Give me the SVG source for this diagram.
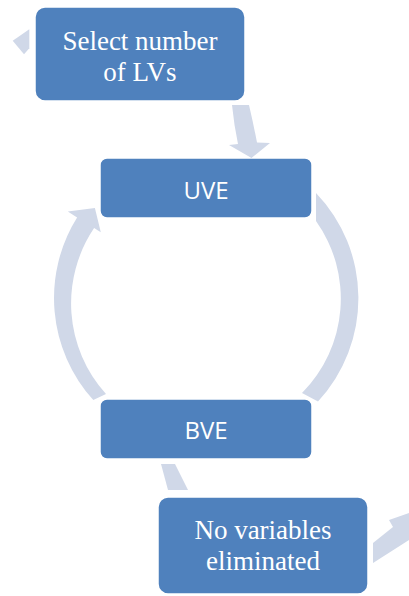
<svg xmlns="http://www.w3.org/2000/svg" width="409" height="596" viewBox="0 0 409 596">
  <style>
    .box { fill: #4f81bd; stroke: #ffffff; stroke-width: 1.5; }
    .link { fill: #d0d8e8; stroke: none; }
    .serif { font-family: "Liberation Serif", "Times New Roman", serif; font-size: 27px; fill: #ffffff; text-anchor: middle; }
    .sans { font-family: "Open Sans", "Noto Sans", sans-serif; font-size: 24px; fill: #ffffff; text-anchor: middle; }
  </style>

  <!-- process steps -->
  <g id="node-select">
    <rect class="box" x="35" y="7" width="210" height="94" rx="10"/>
    <text class="serif" x="140" y="50">Select number</text>
    <text class="serif" x="140" y="81">of LVs</text>
  </g>
  <g id="node-uve">
    <rect class="box" x="100" y="158" width="212" height="60" rx="7"/>
    <text class="sans" x="206" y="199">UVE</text>
  </g>
  <g id="node-bve">
    <rect class="box" x="100" y="399" width="212" height="60" rx="7"/>
    <text class="sans" x="206" y="439">BVE</text>
  </g>
  <g id="node-none">
    <rect class="box" x="158" y="497" width="210" height="97" rx="10"/>
    <text class="serif" x="263" y="539">No variables</text>
    <text class="serif" x="263" y="570">eliminated</text>
  </g>

  <!-- flow arrows -->
  <g id="connectors">
    <!-- incoming head at the left of the first step -->
    <polygon class="link" points="12.7,40.7 29.3,29.3 29.3,48.3 24,54.3"/>
    <!-- Select number of LVs -> UVE -->
    <path class="link" d="M232,105 Q234,125 238,144 L229,145 L251.5,158 L270,143 L257,142.5 Q253,122 249,105 Z"/>
    <!-- UVE -> BVE (right side of the loop) -->
    <path class="link" d="M316,193 A152,152 0 0 1 318,401.5 L302,393 A134,134 0 0 0 316,221 Z"/>
    <!-- BVE -> UVE (left side of the loop, tapering arrow) -->
    <path class="link" d="M93.3,400 A152,152 0 0 1 77.1,217.5 L67.8,211.6 L94.9,208 L100.8,232.3 L94.1,228.1 A134.9,134.9 0 0 0 106,394 Z"/>
    <!-- BVE -> No variables eliminated -->
    <polygon class="link" points="161,464 175,464 188,490 168,490"/>
    <!-- outgoing arrow to the right -->
    <polygon class="link" points="373,543 393,527 389,520 409,513 409,540 373,563"/>
  </g>
</svg>
